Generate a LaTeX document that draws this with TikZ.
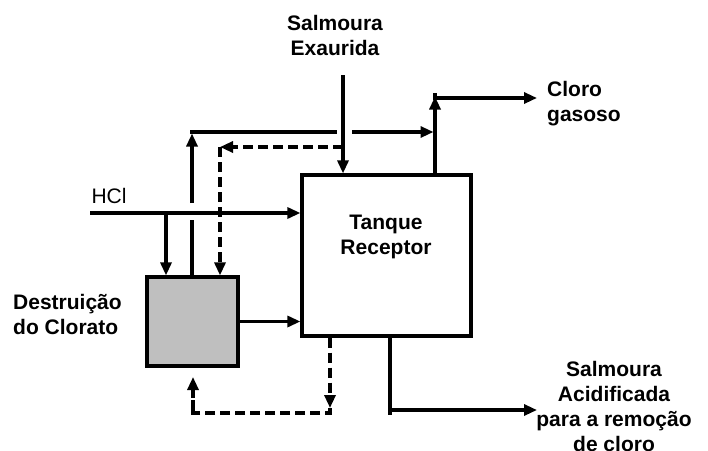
\documentclass[tikz,border=0pt]{standalone}
\usepackage{fontspec}
\setmainfont{Liberation Sans}
\usetikzlibrary{arrows.meta}
\begin{document}
\begin{tikzpicture}[x=1pt,y=-1pt,
  ln/.style={line width=3.1pt},
  arr/.style={ln,-{Triangle[length=13pt,width=11pt]}},
  dsh/.style={ln,dash pattern=on 10pt off 5pt},
  lbl/.style={font=\fontsize{21}{25}\selectfont\bfseries,align=center,inner sep=0pt},
  box/.style={draw,line width=3.2pt,inner sep=0pt}]
\useasboundingbox (0,0) rectangle (708,450);
% nodes
\node[box,minimum width=169pt,minimum height=161pt] (tank) at (386.5,255.5) {};
\node[box,fill=black!25,minimum width=91pt,minimum height=89pt] (gray) at (192.5,321.5) {};
\node[lbl] (tanklbl) at (386,237) {Tanque\\Receptor};
\node[lbl] (salm) at (335,35) {Salmoura\\Exaurida};
\node[lbl,font=\fontsize{21}{25}\selectfont] (hcl) at (109,196) {HCl};
\node[lbl,align=left,anchor=west] (destr) at (13,314) {Destruição\\do Clorato};
\node[lbl,align=left,anchor=west] (cloro) at (547,104) {Cloro\\gasoso};
\node[lbl] (acid) at (614,406) {Salmoura\\Acidificada\\para a remoção\\de cloro};
% coordinates
\coordinate (hcl0) at (90,213);
\coordinate (j1) at (166,213);
\coordinate (u1) at (192,203);
\coordinate (u2) at (192,220);
\coordinate (c1) at (192,132);
\coordinate (h1) at (335,132);
\coordinate (h2) at (352,132);
\coordinate (g0) at (435,98);
\coordinate (g1) at (537,98);
\coordinate (gv) at (435,132);
\coordinate (s0) at (343,75);
\coordinate (d0) at (343,147);
\coordinate (d1) at (220,147);
\coordinate (b1) at (330,413);
\coordinate (b1a) at (330,408);
\coordinate (b2) at (193,413);
\coordinate (b3) at (193,377);
\coordinate (o0) at (390,410);
\coordinate (o1) at (537,410);
% HCl
\draw[arr] (hcl0) -- (hcl0 -| tank.west);
\draw[arr] (j1) -- (j1 |- gray.north);
% recycle up
\draw (gray.north -| u2) [ln] -- (u2);
\draw[arr] (u1) -- ([yshift=-1.5pt]c1);
\draw[ln,line cap=rect] (c1) -- (h1);
\draw[arr] (h2) -- ([xshift=-1.5pt]gv);
% salmoura exaurida
\draw[arr] (s0) -- (s0 |- tank.north);
% dashed top
\draw[dsh,arr] (d0) -- (d1);
\draw[dsh,arr] (d1) -- (d1 |- gray.north);
% gray to tank
\draw[arr] (gray.east) -- (gray.east -| tank.west);
% gas out
\draw[arr] (tank.north -| g0) -- ([yshift=1.5pt]g0);
\draw[ln,line cap=rect] ([yshift=3pt]g0) -- (g0) -- ([xshift=20pt]g0);
\draw[arr] (g0) -- (g1);
% dashed bottom
\draw[dsh,arr] (tank.south -| b1) -- (b1a);
\draw[dsh] (b1a) -- (b1) -- (b2) -- (b2 |- 0,400);
\draw[dsh,arr] (b2) -- (b3);
% acid out
\draw[ln] (tank.south -| o0) -- (o0);
\draw[ln,line cap=rect] ([yshift=-3pt]o0) -- (o0) -- ([xshift=5pt]o0);
\draw[arr] (o0) -- (o1);
\end{tikzpicture}
\end{document}
